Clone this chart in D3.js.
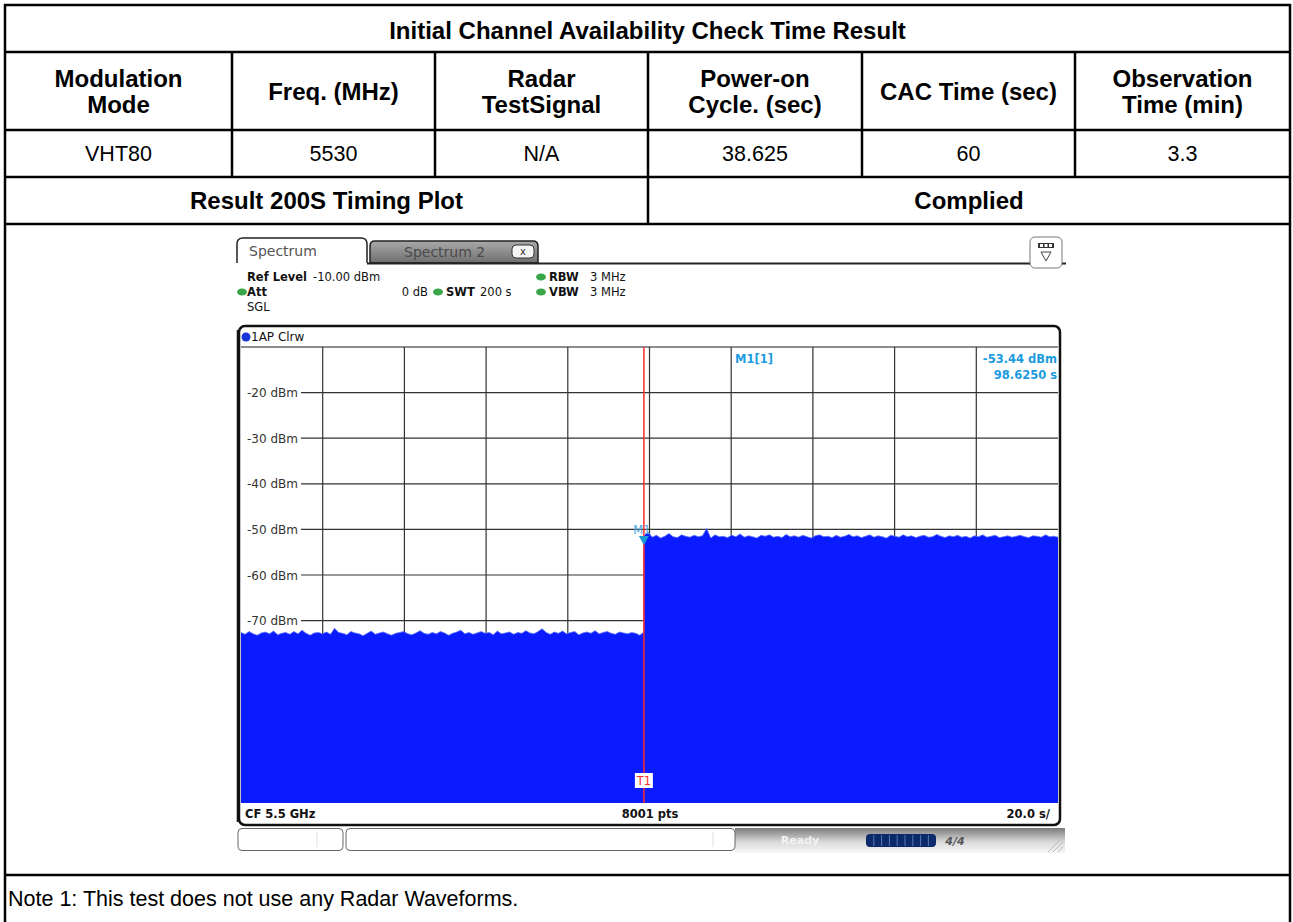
<!DOCTYPE html>
<html lang="en">
<head>
<meta charset="utf-8">
<title>CAC Time Result</title>
<script src="https://d3js.org/d3.v7.min.js"></script>
<style>
  body { margin: 0; background: #fff; }
  #page text { font-family: "Liberation Sans", Arial, sans-serif; }
  #page .scr text { font-family: "DejaVu Sans", Verdana, sans-serif; }
</style>
</head>
<body>
<svg id="page" width="1293" height="922"></svg>
<script>
// ---- table content
const title = "Initial Channel Availability Check Time Result";
const headers = [["Modulation", "Mode"], ["Freq. (MHz)"], ["Radar", "TestSignal"],
                 ["Power-on", "Cycle. (sec)"], ["CAC Time (sec)"], ["Observation", "Time (min)"]];
const values = ["VHT80", "5530", "N/A", "38.625", "60", "3.3"];
const resultRow = ["Result 200S Timing Plot", "Complied"];
const note = "Note 1: This test does not use any Radar Waveforms.";

// ---- analyzer screen content
const levelTicks = [-20, -30, -40, -50, -60, -70];
const timeSpan = [0, 200];       // s, SWT 200 s, 20 s/div
const levelSpan = [-110, -10];   // dBm, ref level -10 dBm, 10 dB/div
const markerTime = 98.625;
const markerLevel = -53.44;
// top edge of the trace (dBm), before / after the power-on step
const traceBefore = [
  -72.6, -73.0, -72.4, -72.9, -73.2, -72.7, -72.5, -72.9, -72.3, -73.1,
  -72.8, -72.6, -73.0, -72.4, -72.9, -72.1, -72.8, -73.2, -72.7, -72.6,
  -72.9, -72.5, -73.0, -71.7, -72.6, -72.8, -73.1, -72.4, -72.7, -72.9,
  -73.3, -72.8, -72.3, -73.0, -72.7, -72.5, -72.9, -73.2, -72.8, -72.6,
  -72.4, -72.9, -73.1, -72.7, -72.2, -72.8, -73.0, -72.6, -72.9, -72.4,
  -72.7, -73.2, -72.8, -72.5, -72.1, -72.9, -72.6, -73.0, -72.7, -72.4,
  -72.8, -72.6, -73.1, -72.3, -72.9, -72.7, -72.5, -73.0, -72.6, -72.8,
  -72.2, -72.7, -72.9, -72.4, -71.8, -72.6, -73.0, -72.5, -72.8, -72.3,
  -72.9, -72.6, -72.4, -73.1, -72.7, -72.5, -72.8, -72.2, -72.9, -72.6,
  -72.4, -72.8, -73.0, -72.5, -72.7, -72.9, -72.6, -72.8, -73.2, -72.5
];
const traceAfter = [
  -51.4, -50.6, -51.7, -51.3, -51.9, -51.5, -50.9, -51.6, -51.8, -51.2,
  -51.5, -51.7, -51.3, -51.6, -51.4, -49.8, -51.9, -51.2, -51.6, -51.5,
  -51.8, -51.3, -51.6, -51.0, -51.7, -51.4, -51.6, -51.9, -51.3, -51.5,
  -51.2, -51.7, -51.5, -51.8, -51.1, -51.6, -51.4, -51.7, -51.3, -51.6,
  -51.9, -51.4, -51.2, -51.6, -51.5, -51.8, -51.3, -51.7, -51.5, -51.1,
  -51.6, -51.4, -51.8, -51.5, -51.2, -51.7, -51.4, -51.6, -51.9, -51.3,
  -51.5, -51.7, -51.2, -51.6, -51.4, -51.8, -51.5, -51.3, -51.7, -51.6,
  -51.1, -51.5, -51.8, -51.4, -51.6, -51.3, -51.7, -51.5, -51.9, -51.4,
  -51.6, -51.2, -51.7, -51.5, -51.3, -51.8, -51.6, -51.4, -51.7, -51.5,
  -51.3, -51.6, -51.8, -51.4, -51.5, -51.7, -51.2, -51.6, -51.5, -51.7
];

const svg = d3.select("#page");

// ================= TABLE =================
const colX = [5, 232, 435, 648, 862, 1075, 1290];
const rowY = [4, 52, 130, 177, 224, 875, 922];
const mid = colX[3];
const table = svg.append("g");

function hline(y, x1, x2) {
  table.append("line").attr("x1", x1).attr("x2", x2).attr("y1", y).attr("y2", y)
    .attr("stroke", "#000").attr("stroke-width", 2.5);
}
function vline(x, y1, y2) {
  table.append("line").attr("x1", x).attr("x2", x).attr("y1", y1).attr("y2", y2)
    .attr("stroke", "#000").attr("stroke-width", 2.5);
}
function label(x, y, str, bold) {
  table.append("text").attr("x", x).attr("y", y).attr("text-anchor", "middle")
    .attr("dominant-baseline", "central")
    .style("font-size", bold ? "24px" : "21.5px").style("font-weight", bold ? "bold" : "normal")
    .text(str);
}

rowY.slice(1, 6).forEach(y => hline(y, colX[0], colX[6]));
hline(rowY[0] + 1, colX[0] - 1, colX[6] + 1);
vline(colX[0], rowY[0], 922);
vline(colX[6], rowY[0], 922);
colX.slice(1, 6).forEach(x => vline(x, rowY[1], rowY[3]));
vline(mid, rowY[3], rowY[4]);

label((colX[0] + colX[6]) / 2, (rowY[0] + rowY[1]) / 2 + 2, title, true);
headers.forEach((h, i) => {
  const cx = (colX[i] + colX[i + 1]) / 2, cy = (rowY[1] + rowY[2]) / 2;
  if (h.length === 1) label(cx, cy, h[0], true);
  else { label(cx, cy - 12.5, h[0], true); label(cx, cy + 13.5, h[1], true); }
});
values.forEach((v, i) => label((colX[i] + colX[i + 1]) / 2, (rowY[2] + rowY[3]) / 2, v, false));
label((colX[0] + mid) / 2, (rowY[3] + rowY[4]) / 2, resultRow[0], true);
label((mid + colX[6]) / 2, (rowY[3] + rowY[4]) / 2, resultRow[1], true);
table.append("text").attr("x", colX[0] + 3).attr("y", (rowY[5] + rowY[6]) / 2)
  .attr("dominant-baseline", "central").style("font-size", "21.5px").text(note);

// ================= ANALYZER SCREEN =================
const scr = svg.append("g").attr("class", "scr");
const defs = svg.append("defs");

const tabGrad = defs.append("linearGradient").attr("id", "tabGrad").attr("x1", 0).attr("x2", 0).attr("y1", 0).attr("y2", 1);
tabGrad.append("stop").attr("offset", 0).attr("stop-color", "#a9a9a9");
tabGrad.append("stop").attr("offset", 1).attr("stop-color", "#6f6f6f");
const barGrad = defs.append("linearGradient").attr("id", "barGrad").attr("x1", 0).attr("x2", 0).attr("y1", 0).attr("y2", 1);
barGrad.append("stop").attr("offset", 0).attr("stop-color", "#7a7a7a");
barGrad.append("stop").attr("offset", 0.55).attr("stop-color", "#d9d9d9");
barGrad.append("stop").attr("offset", 1).attr("stop-color", "#f7f7f7");

// tabs
scr.append("path")
  .attr("d", "M237,263 L237,244 Q237,238 243,238 L361,238 Q367,238 367,244 L367,263")
  .attr("fill", "#fff").attr("stroke", "#222").attr("stroke-width", 1.5);
scr.append("path")
  .attr("d", "M370,263 L370,246 Q370,241 375,241 L533,241 Q538,241 538,246 L538,263 Z")
  .attr("fill", "url(#tabGrad)").attr("stroke", "#222").attr("stroke-width", 1.5);
scr.append("text").attr("x", 249).attr("y", 256).style("font-size", "14px").attr("fill", "#555").text("Spectrum");
scr.append("text").attr("x", 404).attr("y", 257).style("font-size", "14px").attr("fill", "#4a4a4a").text("Spectrum 2");
scr.append("rect").attr("x", 512).attr("y", 245).attr("width", 22).attr("height", 13).attr("rx", 4)
  .attr("fill", "#f4f4f4").attr("stroke", "#333");
scr.append("text").attr("x", 523).attr("y", 255).attr("text-anchor", "middle").style("font-size", "10px").attr("fill", "#333").text("x");
scr.append("line").attr("x1", 367).attr("x2", 1066).attr("y1", 263.5).attr("y2", 263.5).attr("stroke", "#222").attr("stroke-width", 2);

// menu icon (top right)
scr.append("rect").attr("x", 1030).attr("y", 237).attr("width", 32).attr("height", 31).attr("rx", 5)
  .attr("fill", "#fff").attr("stroke", "#777");
scr.append("rect").attr("x", 1038).attr("y", 243).attr("width", 16).attr("height", 5).attr("fill", "#333");
scr.selectAll("rect.cell").data([0, 1, 2]).join("rect").attr("class", "cell")
  .attr("x", d => 1040 + d * 4.5).attr("y", 244).attr("width", 3).attr("height", 3).attr("fill", "#fff");
scr.append("path").attr("d", "M1041,252 L1051,252 L1046,261 Z").attr("fill", "none").attr("stroke", "#444");

// settings block
function st(x, y, str, bold, anchor, size) {
  scr.append("text").attr("x", x).attr("y", y).attr("text-anchor", anchor || "start")
    .style("font-size", (size || 11.5) + "px").style("font-weight", bold ? "bold" : "normal").attr("fill", "#111").text(str);
}
function dot(x, y) {
  scr.append("ellipse").attr("cx", x).attr("cy", y).attr("rx", 5).attr("ry", 3.5).attr("fill", "#3aa64a");
}
st(247, 281, "Ref Level", true); st(313, 281, "-10.00 dBm");
dot(541, 277); st(549, 281, "RBW", true); st(590, 281, "3 MHz");
dot(242, 292); st(247, 296, "Att", true); st(428, 296, "0 dB", false, "end");
dot(438, 292); st(446, 296, "SWT", true); st(480, 296, "200 s");
dot(541, 292); st(549, 296, "VBW", true); st(590, 296, "3 MHz");
st(247, 311, "SGL");

// diagram frame
const x0 = 241, x1 = 1058, yTop = 347, yBot = 803;
const x = d3.scaleLinear().domain(timeSpan).range([x0, x1]);
const y = d3.scaleLinear().domain(levelSpan).range([yBot, yTop]);

scr.append("rect").attr("x", 239).attr("y", 326).attr("width", 821).attr("height", 499).attr("rx", 6)
  .attr("fill", "#fff").attr("stroke", "#111").attr("stroke-width", 2.5);
scr.append("line").attr("x1", 237.5).attr("x2", 237.5).attr("y1", 330).attr("y2", 822).attr("stroke", "#111").attr("stroke-width", 1.5);
scr.append("circle").attr("cx", 246).attr("cy", 337).attr("r", 4.5).attr("fill", "#1a35d6");
st(251, 341, "1AP Clrw", false, "start", 12);
scr.append("line").attr("x1", x0).attr("x2", x1).attr("y1", yTop).attr("y2", yTop).attr("stroke", "#666").attr("stroke-width", 1.5);

// grid
const grid = scr.append("g");
grid.selectAll("line.v").data(d3.range(20, 200, 20)).join("line").attr("class", "v")
  .attr("x1", d => x(d)).attr("x2", d => x(d)).attr("y1", yTop).attr("y2", yBot)
  .attr("stroke", "#333").attr("stroke-width", 1.2);
grid.selectAll("line.h").data(d3.range(-100, -10, 10)).join("line").attr("class", "h")
  .attr("x1", d => levelTicks.includes(d) ? 301 : x0).attr("x2", x1)
  .attr("y1", d => y(d)).attr("y2", d => y(d))
  .attr("stroke", "#333").attr("stroke-width", 1.2);
grid.selectAll("text").data(levelTicks).join("text")
  .attr("x", 247).attr("y", d => y(d) + 4.5).style("font-size", "12px").attr("fill", "#333")
  .text(d => d + " dBm");

// trace
const stepBefore = markerTime / (traceBefore.length - 1);
const stepAfter = (timeSpan[1] - markerTime) / (traceAfter.length - 1);
const trace = traceBefore.map((v, i) => ({ t: i * stepBefore, v }))
  .concat(traceAfter.map((v, i) => ({ t: markerTime + i * stepAfter, v })));
const area = d3.area().x(d => x(d.t)).y0(yBot).y1(d => y(d.v));
scr.append("path").datum(trace).attr("d", area).attr("fill", "#0a1cff");
scr.append("path").datum(trace).attr("d", d3.line().x(d => x(d.t)).y(d => y(d.v)))
  .attr("fill", "none").attr("stroke", "#5f74ff").attr("stroke-width", 0.8);

// T1 line and markers
scr.append("line").attr("x1", x(markerTime)).attr("x2", x(markerTime)).attr("y1", yTop).attr("y2", yBot)
  .attr("stroke", "#ff2a2a").attr("stroke-width", 1.5);
scr.append("rect").attr("x", x(markerTime) - 9).attr("y", 773).attr("width", 18).attr("height", 15).attr("fill", "#fff");
scr.append("text").attr("x", x(markerTime)).attr("y", 785).attr("text-anchor", "middle")
  .style("font-size", "11.5px").attr("fill", "#ff2a2a").text("T1");
const mx = x(markerTime), my = y(markerLevel);
scr.append("path").attr("d", `M${mx - 5},${my - 9} L${mx + 5},${my - 9} L${mx},${my} Z`).attr("fill", "#1a9ad6");
scr.append("text").attr("x", mx - 2).attr("y", my - 11).attr("text-anchor", "middle")
  .style("font-size", "11.5px").attr("fill", "#4aa8e0").text("M1");

const blue = "#1c9be0";
scr.append("text").attr("x", 735).attr("y", 363).style("font-size", "11.5px").style("font-weight", "bold").attr("fill", blue).text("M1[1]");
scr.append("text").attr("x", 1057).attr("y", 363).attr("text-anchor", "end").style("font-size", "11.5px").style("font-weight", "bold")
  .attr("fill", blue).text(markerLevel.toFixed(2) + " dBm");
scr.append("text").attr("x", 1057).attr("y", 379).attr("text-anchor", "end").style("font-size", "11.5px").style("font-weight", "bold")
  .attr("fill", blue).text(markerTime.toFixed(4) + " s");

// footer of diagram
st(245, 818, "CF 5.5 GHz", true);
st(650, 818, "8001 pts", true, "middle");
st(1050, 818, (timeSpan[1] / 10).toFixed(1) + " s/", true, "end");

// status bar
scr.append("rect").attr("x", 735).attr("y", 828).attr("width", 330).attr("height", 25).attr("fill", "url(#barGrad)");
scr.append("rect").attr("x", 238).attr("y", 828.5).attr("width", 105).attr("height", 22).attr("rx", 4)
  .attr("fill", "#fff").attr("stroke", "#666");
scr.append("line").attr("x1", 317).attr("x2", 317).attr("y1", 832).attr("y2", 847).attr("stroke", "#ddd");
scr.append("rect").attr("x", 346).attr("y", 828.5).attr("width", 389).attr("height", 22).attr("rx", 4)
  .attr("fill", "#fff").attr("stroke", "#666");
scr.append("line").attr("x1", 713).attr("x2", 713).attr("y1", 832).attr("y2", 847).attr("stroke", "#ddd");
scr.append("text").attr("x", 800).attr("y", 844).attr("text-anchor", "middle").style("font-size", "11px")
  .style("font-weight", "bold").attr("fill", "#f2f2f2").text("Ready");
scr.append("rect").attr("x", 866).attr("y", 834).attr("width", 70).attr("height", 13).attr("rx", 4).attr("fill", "#0b2a6b");
scr.selectAll("line.seg").data(d3.range(1, 9)).join("line").attr("class", "seg")
  .attr("x1", d => 866 + d * 7.8).attr("x2", d => 866 + d * 7.8).attr("y1", 835).attr("y2", 846)
  .attr("stroke", "#5a76b0").attr("stroke-width", 1);
scr.append("text").attr("x", 955).attr("y", 845).attr("text-anchor", "middle").style("font-size", "11px")
  .style("font-weight", "bold").style("font-style", "italic").attr("fill", "#555").text("4/4");
scr.selectAll("line.hatch").data([0, 5, 10]).join("line").attr("class", "hatch")
  .attr("x1", d => 1048 + d).attr("y1", 852).attr("x2", d => 1063).attr("y2", d => 837 + d)
  .attr("stroke", "#bbb").attr("stroke-width", 1);
</script>
</body>
</html>
